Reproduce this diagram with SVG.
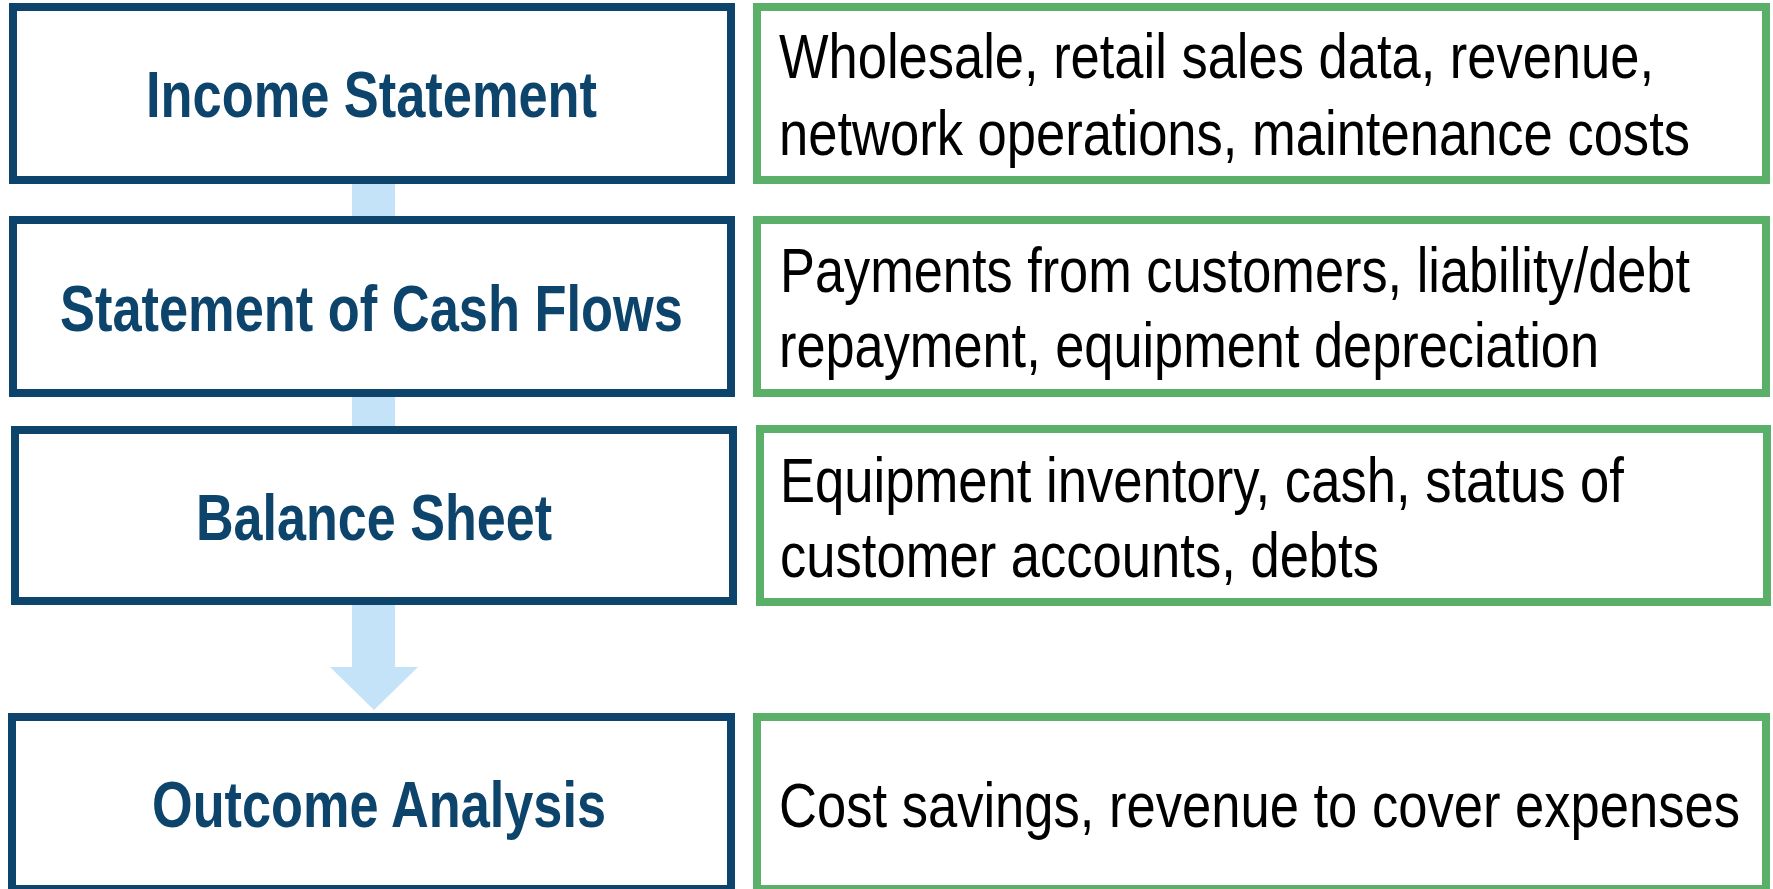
<svg xmlns="http://www.w3.org/2000/svg" width="1773" height="889" viewBox="0 0 1773 889">
<style>
.lbox{fill:#ffffff;stroke:#0D446C;stroke-width:8}
.rbox{fill:#ffffff;stroke:#5AAF69;stroke-width:8}
.ltxt{font-family:"Liberation Sans Narrow","Liberation Sans",Arial,sans-serif;font-weight:bold;font-size:64px;fill:#0D446C}
.rtxt{font-family:"Liberation Sans Narrow","Liberation Sans",Arial,sans-serif;font-size:63px;fill:#000000}
</style>
<rect width="1773" height="889" fill="#ffffff"/>
<g id="connectors">
<path d="M352,180 L395,180 L395,667 L418,667 L374,710 L330,667 L352,667 Z" fill="#C5E3F8"/>
</g>
<g id="income-statement">
<rect class="lbox" x="13" y="7" width="718" height="173"/>
<text class="ltxt" x="146" y="117" textLength="451" lengthAdjust="spacingAndGlyphs">Income Statement</text>
</g>
<g id="statement-cash-flows">
<rect class="lbox" x="13" y="220" width="718" height="173"/>
<text class="ltxt" x="60" y="331" textLength="623" lengthAdjust="spacingAndGlyphs">Statement of Cash Flows</text>
</g>
<g id="balance-sheet">
<rect class="lbox" x="15" y="430" width="718" height="171"/>
<text class="ltxt" x="196" y="540" textLength="356" lengthAdjust="spacingAndGlyphs">Balance Sheet</text>
</g>
<g id="outcome-analysis">
<rect class="lbox" x="12" y="717" width="719" height="172"/>
<text class="ltxt" x="152" y="827" textLength="454" lengthAdjust="spacingAndGlyphs">Outcome Analysis</text>
</g>
<g id="income-details">
<rect class="rbox" x="757" y="7" width="1009" height="173"/>
<text class="rtxt" x="779" y="78" textLength="875" lengthAdjust="spacingAndGlyphs">Wholesale, retail sales data, revenue,</text>
<text class="rtxt" x="779" y="155" textLength="911" lengthAdjust="spacingAndGlyphs">network operations, maintenance costs</text>
</g>
<g id="cash-flow-details">
<rect class="rbox" x="757" y="220" width="1009" height="173"/>
<text class="rtxt" x="780" y="292" textLength="910" lengthAdjust="spacingAndGlyphs">Payments from customers, liability/debt</text>
<text class="rtxt" x="779" y="367" textLength="820" lengthAdjust="spacingAndGlyphs">repayment, equipment depreciation</text>
</g>
<g id="balance-details">
<rect class="rbox" x="760" y="429" width="1007" height="173"/>
<text class="rtxt" x="780" y="502" textLength="844" lengthAdjust="spacingAndGlyphs">Equipment inventory, cash, status of</text>
<text class="rtxt" x="780" y="577" textLength="599" lengthAdjust="spacingAndGlyphs">customer accounts, debts</text>
</g>
<g id="outcome-details">
<rect class="rbox" x="757" y="717" width="1009" height="172"/>
<text class="rtxt" x="779" y="827" textLength="961" lengthAdjust="spacingAndGlyphs">Cost savings, revenue to cover expenses</text>
</g>
</svg>
